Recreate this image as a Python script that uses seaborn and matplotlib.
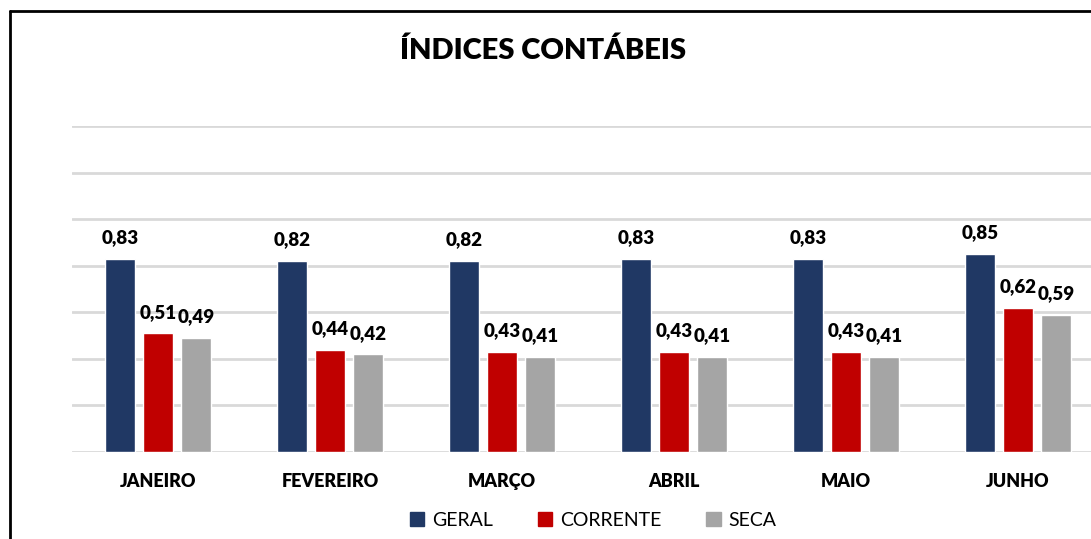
import pandas as pd
import matplotlib.pyplot as plt
import seaborn as sns
from matplotlib.lines import Line2D

# Dados
meses = ['JANEIRO', 'FEVEREIRO', 'MARÇO', 'ABRIL', 'MAIO', 'JUNHO']
geral = [0.83, 0.82, 0.82, 0.83, 0.83, 0.85]
corrente = [0.51, 0.44, 0.43, 0.43, 0.43, 0.62]
seca = [0.49, 0.42, 0.41, 0.41, 0.41, 0.59]
series = ['GERAL', 'CORRENTE', 'SECA']
cores = ['#203864', '#C00000', '#A5A5A5']

df = pd.DataFrame({'mes': meses * 3,
                   'indice': ['GERAL'] * 6 + ['CORRENTE'] * 6 + ['SECA'] * 6,
                   'valor': geral + corrente + seca})

sns.set_style('white')
plt.rcParams['font.family'] = ['Lato', 'DejaVu Sans']
plt.rcParams['text.color'] = 'black'
plt.rcParams['xtick.color'] = 'black'

fig = plt.figure(figsize=(10.91, 5.39), dpi=100)
ax = fig.add_axes([72 / 1091, 87 / 539, 1032 / 1091, 326 / 539])

sns.barplot(data=df, x='mes', y='valor', hue='indice', hue_order=series,
            palette=cores, width=0.663, gap=0.21, saturation=1, ax=ax,
            legend=False)

for cont in ax.containers:
    labels = [f'{v:.2f}'.replace('.', ',') for v in cont.datavalues]
    ax.bar_label(cont, labels=labels, padding=9, fontsize=13.5,
                 fontweight='heavy', color='black')

ax.set_ylim(0, 1.4)
ax.set_xlim(-0.5, 5.5)
ax.set_yticks([0, 0.2, 0.4, 0.6, 0.8, 1.0, 1.2, 1.4])
ax.set_yticklabels([])
ax.tick_params(axis='y', length=0)
ax.tick_params(axis='x', length=0, pad=15)
for lbl in ax.get_xticklabels():
    lbl.set_fontweight('heavy')
    lbl.set_fontsize(13)
    lbl.set_color('black')
ax.grid(axis='y', color='#D9D9D9', linewidth=2)
ax.set_axisbelow(True)
ax.set_xlabel('')
ax.set_ylabel('')
sns.despine(ax=ax, left=True, bottom=True, top=True, right=True)

handles = [plt.Rectangle((0, 0), 1, 1, color=c) for c in cores]
leg = ax.legend(handles, series, loc='upper center', bbox_to_anchor=(0.505, -0.13),
                ncol=3, frameon=False, fontsize=14, handlelength=0.75,
                handleheight=0.75, columnspacing=2.3, handletextpad=0.4)
for t in leg.get_texts():
    t.set_color('black')

fig.text(0.498, 0.905, 'ÍNDICES CONTÁBEIS', ha='center', va='center',
         fontsize=21, fontweight='heavy', color='black')

# Borda do gráfico
fig.add_artist(Line2D([9.5 / 1091, 9.5 / 1091], [0, 1 - 11 / 539],
                      color='black', linewidth=2, transform=fig.transFigure))
fig.add_artist(Line2D([9.5 / 1091, 1], [1 - 11 / 539, 1 - 11 / 539],
                      color='black', linewidth=2, transform=fig.transFigure))

fig.savefig('out.png', dpi=100)
